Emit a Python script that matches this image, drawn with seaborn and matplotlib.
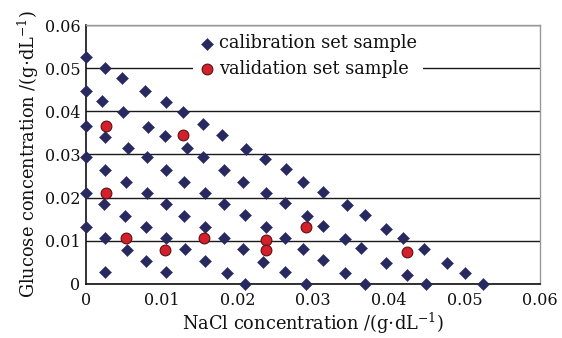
import matplotlib
matplotlib.use("Agg")
import matplotlib.pyplot as plt
import pandas as pd
import seaborn as sns

# calibration set (NaCl, glucose) in g/dL
cal_nacl = [
    0.0, 0.0025, 0.0048, 0.0, 0.0078, 0.0021, 0.0106, 0.0049, 0.0128,
    0.0, 0.0082, 0.0155, 0.0025, 0.0105, 0.0180, 0.0056, 0.0133, 0.0211,
    0.0, 0.0081, 0.0155, 0.0236, 0.0025, 0.0106, 0.0182, 0.0264,
    0.0053, 0.0130, 0.0207, 0.0287, 0.0, 0.0081, 0.0157, 0.0238, 0.0313,
    0.0024, 0.0106, 0.0182, 0.0263, 0.0345, 0.0052, 0.0130, 0.0210, 0.0292, 0.0369,
    0.0, 0.0079, 0.0157, 0.0238, 0.0313, 0.0396,
    0.0025, 0.0106, 0.0182, 0.0263, 0.0342, 0.0419,
    0.0054, 0.0131, 0.0207, 0.0287, 0.0363, 0.0447,
    0.0079, 0.0157, 0.0234, 0.0313, 0.0396, 0.0477,
    0.0025, 0.0106, 0.0186, 0.0263, 0.0342, 0.0424, 0.0501,
    0.0210, 0.0291, 0.0369, 0.0449, 0.0525,
]
cal_glucose = [
    0.0526, 0.0500, 0.0477, 0.0447, 0.0447, 0.0424, 0.0422, 0.0398, 0.0398,
    0.0366, 0.0364, 0.0371, 0.0341, 0.0343, 0.0345, 0.0315, 0.0315, 0.0313,
    0.0294, 0.0294, 0.0294, 0.0290, 0.0264, 0.0264, 0.0264, 0.0266,
    0.0236, 0.0236, 0.0236, 0.0236, 0.0211, 0.0211, 0.0211, 0.0211, 0.0213,
    0.0185, 0.0185, 0.0185, 0.0187, 0.0183, 0.0158, 0.0158, 0.0160, 0.0158, 0.0160,
    0.0132, 0.0132, 0.0132, 0.0132, 0.0134, 0.0127,
    0.0107, 0.0107, 0.0107, 0.0107, 0.0104, 0.0107,
    0.0079, 0.0081, 0.0081, 0.0081, 0.0083, 0.0081,
    0.0053, 0.0053, 0.0051, 0.0056, 0.0049, 0.0049,
    0.0028, 0.0028, 0.0025, 0.0028, 0.0025, 0.0021, 0.0025,
    0.0, 0.0, 0.0, 0.0, 0.0,
]

# validation set
val_nacl = [0.0027, 0.0128, 0.0026, 0.0053, 0.0156, 0.0105, 0.0238, 0.0238, 0.0291, 0.0424]
val_glucose = [0.0366, 0.0345, 0.0211, 0.0106, 0.0106, 0.0079, 0.0102, 0.0078, 0.0131, 0.0075]

x_ticks = [0, 0.01, 0.02, 0.03, 0.04, 0.05, 0.06]
y_ticks = [0, 0.01, 0.02, 0.03, 0.04, 0.05, 0.06]
tick_labels = ["0", "0.01", "0.02", "0.03", "0.04", "0.05", "0.06"]

sns.set_theme(style="white")
plt.rcParams["font.family"] = ["DejaVu Serif"]
plt.rcParams["mathtext.fontset"] = "dejavuserif"

cal = pd.DataFrame({"nacl": cal_nacl, "glucose": cal_glucose})
val = pd.DataFrame({"nacl": val_nacl, "glucose": val_glucose})

fig = plt.figure(figsize=(5.62, 3.38), dpi=100)
ax = fig.add_axes([0.153, 0.160, 0.808, 0.766])

sns.scatterplot(data=cal, x="nacl", y="glucose", marker="D", s=38,
                color="#28295f", edgecolor="#28295f", linewidth=0.3,
                label="calibration set sample", ax=ax, zorder=3, clip_on=False)
sns.scatterplot(data=val, x="nacl", y="glucose", marker="o", s=60,
                color="#d4202a", edgecolor="#5c1014", linewidth=0.8,
                label="validation set sample", ax=ax, zorder=4, clip_on=False)

ax.set_xlim(0, 0.06)
ax.set_ylim(0, 0.06)
ax.set_xticks(x_ticks)
ax.set_xticklabels(tick_labels)
ax.set_yticks(y_ticks)
ax.set_yticklabels(tick_labels)
ax.tick_params(axis="both", length=0, labelsize=11.5, colors="#111111")
ax.tick_params(axis="x", pad=6)
ax.tick_params(axis="y", pad=4)
ax.set_xticks([0.02, 0.04], minor=True)
ax.tick_params(axis="x", which="minor", direction="in", length=4, width=0.9, color="#222222")

ax.grid(axis="y", color="#1a1a1a", linewidth=1.0)
ax.set_axisbelow(True)
for side in ["left", "bottom"]:
    ax.spines[side].set_color("#111111")
    ax.spines[side].set_linewidth(1.2)
for side in ["top", "right"]:
    ax.spines[side].set_color("#999999")
    ax.spines[side].set_linewidth(1.0)

ax.set_xlabel(r"NaCl concentration /(g$\cdot$dL$^{-1}$)", fontsize=12.8, color="#111111", labelpad=1)
ax.set_ylabel(r"Glucose concentration /(g$\cdot$dL$^{-1}$)", fontsize=12.8, color="#111111", labelpad=3)

leg = ax.legend(loc="upper left", bbox_to_anchor=(0.235, 0.985), fontsize=12.8,
                frameon=True, facecolor="white", edgecolor="none", framealpha=1,
                handletextpad=0.2, borderpad=0.3, labelspacing=0.42,
                handlelength=1.0, borderaxespad=0)
leg.set_zorder(5)
for text in leg.get_texts():
    text.set_color("#111111")

fig.savefig("out.png", dpi=100)
